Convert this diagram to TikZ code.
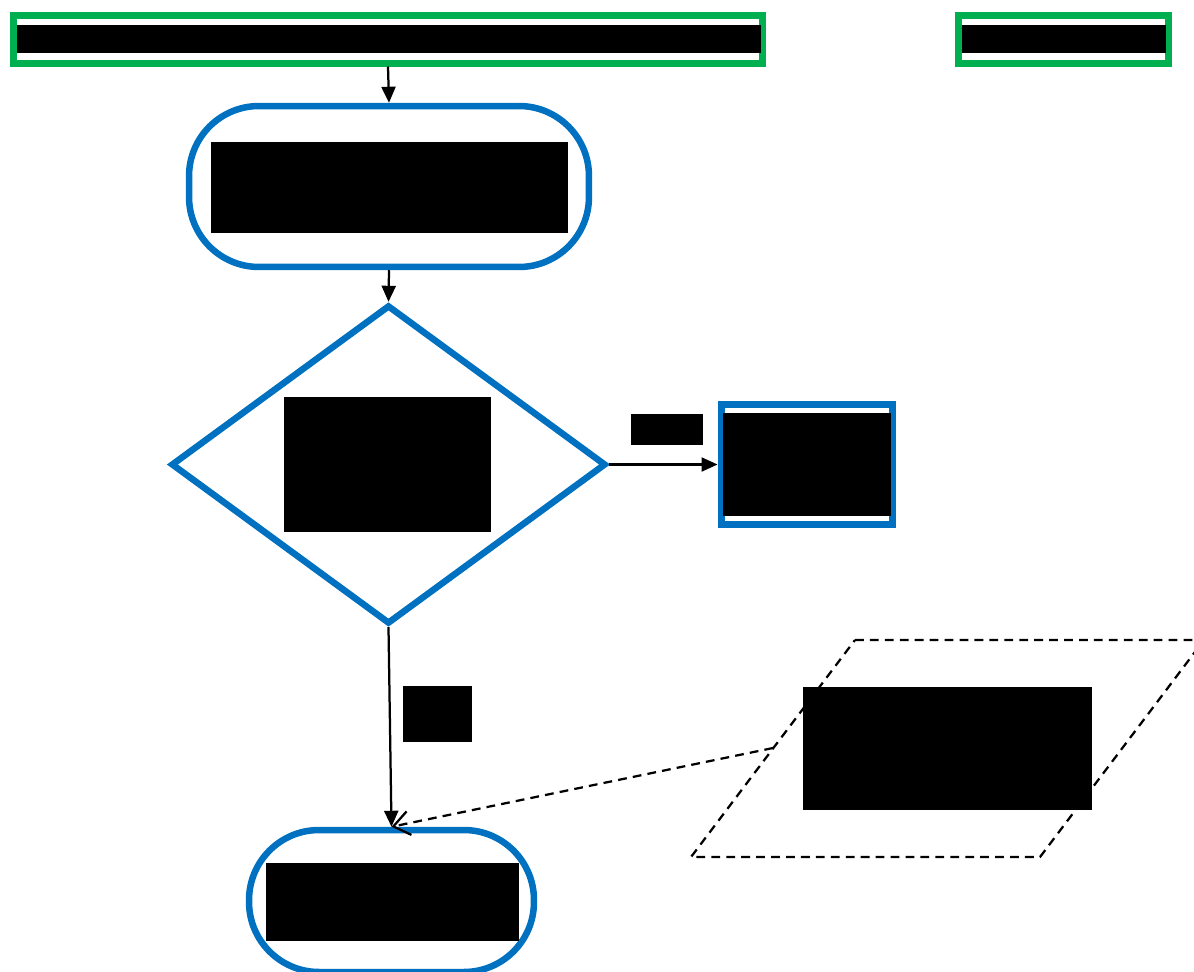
\documentclass[tikz,border=0pt]{standalone}
\usetikzlibrary{arrows.meta,shapes.geometric}
\definecolor{flowblue}{HTML}{0070C0}
\definecolor{flowgreen}{HTML}{00B050}

\begin{document}
\begin{tikzpicture}[x=0.02cm,y=-0.02cm,
    hidden/.style={fill=black,inner sep=0pt},
    greenbox/.style={draw=flowgreen,line width=0.14cm,inner sep=0pt},
    bluebox/.style={draw=flowblue,line width=0.14cm,inner sep=0pt},
    terminal/.style={draw=flowblue,line width=0.13cm,rounded corners=1.4cm,inner sep=0pt},
    flow/.style={line width=0.045cm,-{Triangle[length=0.32cm,width=0.28cm]}},
    dataflow/.style={line width=0.045cm,dash pattern=on 5pt off 3.5pt,-{Straight Barb[length=0.32cm,width=0.48cm]}}]
  \useasboundingbox (0,0) rectangle (1194,971);
  % header boxes
  \node[greenbox,minimum width=15cm,minimum height=0.96cm] (head) at (388,39) {};
  \node[hidden,minimum width=14.88cm,minimum height=0.56cm] (headtxt) at (389,39) {};
  \node[greenbox,minimum width=4.22cm,minimum height=0.96cm] (tag) at (1063.5,39) {};
  \node[hidden,minimum width=4.08cm,minimum height=0.56cm] (tagtxt) at (1064,39) {};
  % start
  \node[terminal,minimum width=8cm,minimum height=3.22cm] (start) at (389,186.5) {};
  \node[hidden,minimum width=7.14cm,minimum height=1.82cm] (starttxt) at (389.5,187.5) {};
  % decision
  \node[diamond,draw=flowblue,line width=0.13cm,inner sep=0pt,minimum width=8.7cm,minimum height=6.38cm] (dec) at (388.5,464.5) {};
  \node[hidden,minimum width=4.14cm,minimum height=2.7cm] (dectxt) at (387.5,464.5) {};
  % branch
  \node[bluebox,minimum width=3.44cm,minimum height=2.42cm] (fail) at (807,464.5) {};
  \node[hidden,minimum width=3.36cm,minimum height=2.06cm] (failtxt) at (807,464.5) {};
  \node[hidden,minimum width=1.44cm,minimum height=0.62cm] (yes) at (667,429.5) {};
  \node[hidden,minimum width=1.38cm,minimum height=1.12cm] (no) at (437.5,714) {};
  % end
  \node[terminal,minimum width=5.7cm,minimum height=2.84cm] (end) at (391.5,901) {};
  \node[hidden,minimum width=5.06cm,minimum height=1.56cm] (endtxt) at (392.5,902) {};
  % data
  \draw[line width=0.045cm,dash pattern=on 5pt off 3.5pt] (855,640) -- (1204,640) -- (1040,857) -- (691,857) -- cycle;
  \coordinate (dataL) at (773,748);
  \node[hidden,minimum width=5.78cm,minimum height=2.46cm] (datatxt) at (947.5,748.5) {};

  \draw[flow] (head.south) -- (start.north);
  \draw[flow] (start.south) -- (dec.north);
  \draw[flow] (dec.east) -- (fail.west);
  \draw[flow] (dec.south) -- (end.north);
  \draw[dataflow] (dataL) -- (end.north);
\end{tikzpicture}
\end{document}
